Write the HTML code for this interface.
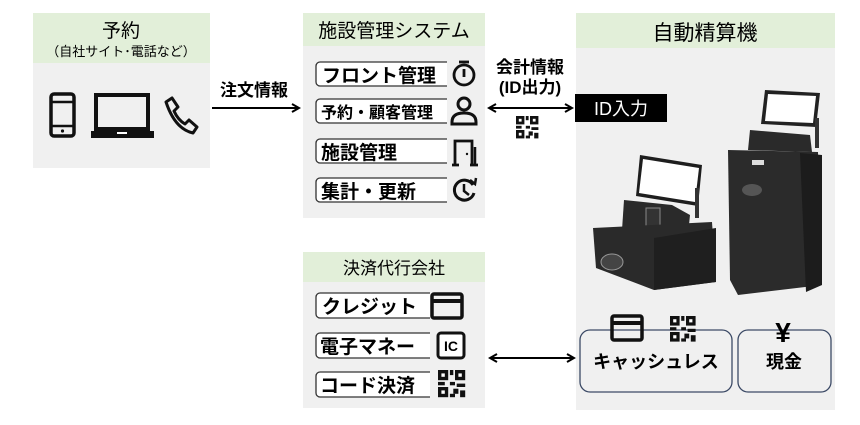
<!DOCTYPE html>
<html><head><meta charset="utf-8"><style>
html,body{margin:0;padding:0;background:#fff}
svg text{font-family:"Liberation Sans","Noto Sans CJK JP",sans-serif}
</style></head><body>
<svg width="860" height="420" viewBox="0 0 860 420" xmlns="http://www.w3.org/2000/svg">
<defs>
<marker id="ah" markerWidth="10" markerHeight="10" refX="8" refY="5" orient="auto-start-reverse" markerUnits="userSpaceOnUse">
<path d="M1,1 L8,5 L1,9" fill="none" stroke="#000" stroke-width="2"/>
</marker>
<g id="qr" fill="#111">
<rect x="0" y="0" width="6" height="6"/><rect x="2" y="2" width="2" height="2" fill="#fff"/>
<rect x="10" y="0" width="6" height="6"/><rect x="12" y="2" width="2" height="2" fill="#fff"/>
<rect x="0" y="10" width="6" height="6"/><rect x="2" y="12" width="2" height="2" fill="#fff"/>
<rect x="7" y="0" width="2" height="3"/><rect x="7" y="7" width="3" height="2"/><rect x="0" y="7" width="4" height="2"/>
<rect x="11" y="8" width="5" height="2"/><rect x="9" y="11" width="3" height="3"/><rect x="13" y="12" width="3" height="4"/><rect x="7" y="14" width="3" height="2"/>
</g>
</defs>

<rect x="33" y="13" width="177" height="155" fill="#f0f0f0"/>
<rect x="33" y="13" width="177" height="50" fill="#e2efd9"/>
<text x="121" y="37" font-size="19" text-anchor="middle">予約</text>
<text x="121" y="56" font-size="13" text-anchor="middle">（自社サイト･電話など）</text>
<rect x="51" y="94" width="23" height="42" rx="3" fill="none" stroke="#111" stroke-width="3.5"/>
<line x1="51" y1="102" x2="74" y2="102" stroke="#111" stroke-width="2.5"/>
<line x1="51" y1="126" x2="74" y2="126" stroke="#111" stroke-width="2.5"/>
<circle cx="62.5" cy="131" r="1.6" fill="#111"/>
<rect x="96" y="95" width="52" height="34" fill="none" stroke="#111" stroke-width="4"/>
<path d="M91,131 H154 V138 H91 Z" fill="#111"/>
<rect x="117" y="132" width="10" height="2" fill="#fff"/>
<path d="M166,102 l6,-4 l6,9 l-4,4 q4,9 11,13 l4,-4 l8,7 l-4,6 q-18,-4 -27,-31 z" fill="none" stroke="#111" stroke-width="3" stroke-linejoin="round"/>

<text x="254" y="96" font-size="17" font-weight="bold" text-anchor="middle">注文情報</text>
<line x1="212" y1="108" x2="299" y2="108" stroke="#000" stroke-width="2" marker-end="url(#ah)"/>

<rect x="303" y="13" width="182" height="205" fill="#f0f0f0"/>
<rect x="303" y="13" width="182" height="33" fill="#e2efd9"/>
<text x="394" y="37" font-size="19" text-anchor="middle">施設管理システム</text>
<g fill="#fff" stroke="#333" stroke-width="1.3">
<rect x="316" y="62" width="140" height="24" rx="4"/>
<rect x="316" y="99" width="140" height="24" rx="4"/>
<rect x="316" y="139" width="140" height="24" rx="4"/>
<rect x="316" y="178" width="140" height="24" rx="4"/>
</g>
<rect x="447" y="55" width="36" height="155" fill="#f0f0f0"/>
<g font-size="19" font-weight="bold">
<text x="322" y="82">フロント管理</text>
<text x="321" y="118" font-size="16">予約・顧客管理</text>
<text x="321" y="159">施設管理</text>
<text x="321" y="198">集計・更新</text>
</g>
<circle cx="464" cy="75" r="10" fill="none" stroke="#111" stroke-width="2.8"/>
<line x1="459" y1="62" x2="469" y2="62" stroke="#111" stroke-width="2.8"/>
<line x1="464" y1="69" x2="464" y2="77" stroke="#111" stroke-width="2.8"/>
<circle cx="464" cy="104" r="6" fill="none" stroke="#111" stroke-width="3"/>
<path d="M452,124 v-2 q0,-9 12,-9 q12,0 12,9 v2 z" fill="none" stroke="#111" stroke-width="3"/>
<path d="M455,165 V141 H472 V165 M452,165 H459 M470,165 H478" fill="none" stroke="#111" stroke-width="2.8"/>
<line x1="475" y1="147" x2="475" y2="165" stroke="#111" stroke-width="2.5"/>
<circle cx="467" cy="154" r="1.2" fill="#111"/>
<path d="M473,185 A10,10 0 1 0 474,193" fill="none" stroke="#111" stroke-width="3"/>
<path d="M470,180 L475,184 L476,178" fill="none" stroke="#111" stroke-width="2.5"/>
<path d="M464,184 V191 L469,195" fill="none" stroke="#111" stroke-width="2.5"/>

<text x="530" y="73" font-size="17" font-weight="bold" text-anchor="middle">会計情報</text>
<text x="530" y="93" font-size="17" font-weight="bold" text-anchor="middle">(ID出力)</text>
<line x1="489" y1="108" x2="572" y2="108" stroke="#000" stroke-width="2" marker-start="url(#ah)" marker-end="url(#ah)"/>
<use href="#qr" transform="translate(516,116) scale(1.4)"/>

<rect x="576" y="13" width="259" height="397" fill="#f0f0f0"/>
<rect x="576" y="13" width="259" height="35" fill="#e2efd9"/>
<text x="705" y="40" font-size="21" text-anchor="middle">自動精算機</text>
<rect x="575" y="94" width="92" height="28" fill="#000"/>
<text x="621" y="115" font-size="18" fill="#fff" text-anchor="middle">ID入力</text>

<polygon points="765,90 820,93 816,127 761,124" fill="#222"/>
<polygon points="768,94 816,96 813,123 765,121" fill="#fff"/>
<rect x="815" y="118" width="4" height="30" fill="#333"/>
<polygon points="750,130 810,135 812,152 748,150" fill="#2a2a2a"/>
<polygon points="728,150 818,152 822,285 738,295 730,280" fill="#2b2b2b"/>
<polygon points="800,153 822,155 822,285 806,292" fill="#1c1c1c"/>
<rect x="752" y="160" width="12" height="5" fill="#ddd"/>
<ellipse cx="752" cy="190" rx="10" ry="6" fill="#555"/>
<polygon points="640,155 702,165 698,206 636,196" fill="#1e1e1e"/>
<polygon points="643,159 699,168 695,202 639,193" fill="#fff"/>
<rect x="695" y="188" width="4" height="30" fill="#333"/>
<polygon points="624,200 672,205 690,215 688,235 622,230" fill="#2a2a2a"/>
<rect x="646" y="208" width="14" height="22" fill="#333" stroke="#888" stroke-width="1"/>
<polygon points="593,228 712,222 716,282 654,290 596,268" fill="#2a2a2a"/>
<polygon points="654,238 716,228 716,282 654,290" fill="#1f1f1f"/>
<ellipse cx="612" cy="262" rx="11" ry="8" fill="#444" stroke="#999"/>

<rect x="580" y="330" width="152" height="62" rx="10" fill="#f0f0f0" stroke="#3c4a66" stroke-width="1.3"/>
<rect x="738" y="330" width="93" height="62" rx="10" fill="#f0f0f0" stroke="#3c4a66" stroke-width="1.3"/>
<rect x="612" y="316" width="30" height="24" rx="2" fill="none" stroke="#111" stroke-width="3.5"/>
<line x1="612" y1="323" x2="642" y2="323" stroke="#111" stroke-width="4"/>
<use href="#qr" transform="translate(670,316) scale(1.6)"/>
<text x="783" y="342" font-size="28" font-weight="bold" text-anchor="middle">¥</text>
<text x="656" y="368" font-size="18" font-weight="bold" text-anchor="middle">キャッシュレス</text>
<text x="784" y="368" font-size="18" font-weight="bold" text-anchor="middle">現金</text>

<rect x="303" y="252" width="182" height="156" fill="#f0f0f0"/>
<rect x="303" y="252" width="182" height="30" fill="#e2efd9"/>
<text x="394" y="274" font-size="17" text-anchor="middle">決済代行会社</text>
<g fill="#fff" stroke="#333" stroke-width="1.3">
<rect x="316" y="293" width="140" height="25" rx="4"/>
<rect x="316" y="333" width="140" height="25" rx="4"/>
<rect x="316" y="372" width="140" height="25" rx="4"/>
</g>
<rect x="430" y="288" width="53" height="115" fill="#f0f0f0"/>
<g font-size="19" font-weight="bold">
<text x="322" y="313">クレジット</text>
<text x="320" y="353">電子マネー</text>
<text x="320" y="392">コード決済</text>
</g>
<rect x="432" y="294" width="30" height="24" rx="2" fill="none" stroke="#111" stroke-width="3.5"/>
<line x1="432" y1="301" x2="462" y2="301" stroke="#111" stroke-width="4"/>
<rect x="438" y="333" width="26" height="25" rx="3" fill="#fff" stroke="#111" stroke-width="3"/>
<text x="451" y="351" font-size="14" font-weight="bold" text-anchor="middle">IC</text>
<use href="#qr" transform="translate(438,370) scale(1.7)"/>

<line x1="490" y1="358" x2="574" y2="358" stroke="#000" stroke-width="2" marker-start="url(#ah)" marker-end="url(#ah)"/>
</svg>
</body></html>
